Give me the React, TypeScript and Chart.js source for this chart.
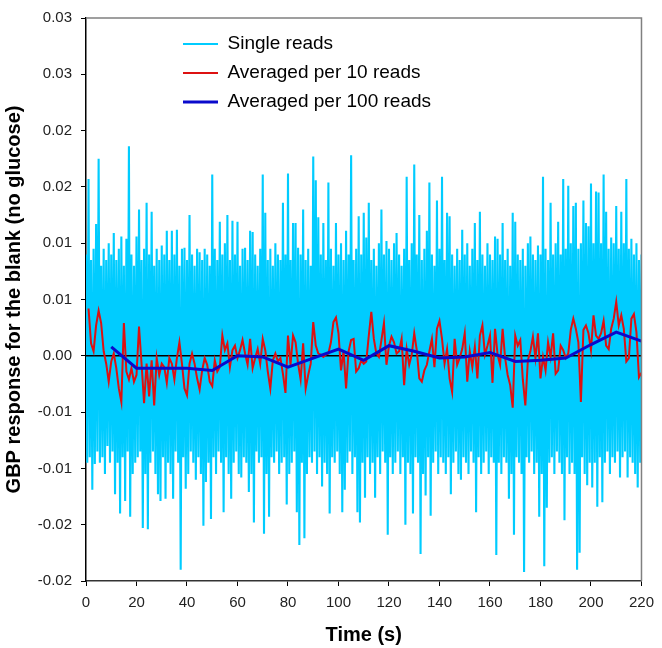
import React, { useEffect, useRef } from "react";
import { Chart, registerables } from "chart.js";

Chart.register(...registerables);

// ---------------- DATA (values in units of 0.001) ----------------
const UNIT = 0.001;

// single reads, plotted every 0.5 s from t = 0 to t = 220 s
const SINGLE_READ_STEP = 0.5;
const singleReads = [
  9, -9.5, 15.7, -9, 8.5, -11.9, 9.5, -9.6, 11.7, -8.5, 17.5, -9.5, 8, -9, 9.5, -10.5, 8.5, -8, 10, -9.5,
  9, -8.5, 10.9, -12.3, 8.5, -9.5, 9.5, -14, 10.6, -9, 8, -12.9, 10.4, -8.5, 18.6, -14.3, 9, -10.5, 8, -9.5,
  10.6, -9, 13, -8.5, 8.5, -15.3, 9.5, -10.5, 13.6, -15.4, 9, -9.5, 12.8, -8.5, 8, -10.5, 9.5, -12.3, 8.5, -12.9,
  9.8, -9, 9, -12.7, 11.1, -9.5, 8.5, -10.5, 11.1, -12.7, 9, -8.5, 11.2, -9.5, 8, -19, 9.5, -9, 9.6, -11.8,
  8.5, -10.5, 12.5, -8.5, 9, -9.5, 8, -11, 9.5, -9, 9.2, -10.5, 8.5, -15.1, 9.5, -11.2, 9, -9.5, 8, -14.5,
  16.1, -9, 9.5, -10.5, 8.5, -8.5, 11.9, -9.5, 9, -13.9, 10, -9, 12.5, -10.5, 8.5, -12.7, 12, -9.5, 9, -8.5,
  11.9, -10.5, 8, -10.8, 9.5, -9, 9.6, -9.5, 8.5, -12.1, 11.1, -10.5, 11, -14.8, 9, -8.5, 8, -9.5, 9.5, -9,
  16.1, -15.8, 12.7, -10.5, 8.5, -14.3, 9.5, -9, 8, -9.5, 10, -8.5, 9, -10.5, 8.5, -9.5, 13.6, -9, 9, -13.2,
  16.2, -10.5, 8.5, -9.5, 11.8, -8.5, 11.8, -13.9, 9.6, -16.8, 9, -9.5, 13, -16.2, 8.5, -10.5, 9.5, -9, 8, -9.5,
  17.7, -8.5, 15.6, -10.5, 12.3, -9, 9, -11.6, 11.8, -9.5, 8.5, -10.5, 15.4, -14, 9.5, -9, 8, -9.5, 11.8, -8.5,
  9, -10.5, 10, -13.9, 8.5, -11.9, 11.1, -9.5, 9, -8.5, 17.8, -10.5, 8.5, -9, 9.5, -13.9, 12.4, -14.8, 9, -9.5,
  12.7, -12.6, 10.5, -9, 13.6, -10.5, 8.5, -9.5, 9.5, -12.6, 8, -9, 10, -10.5, 13, -8.5, 9, -9.5, 10.2, -15.9,
  9.5, -9, 8.5, -10.5, 10, -9.5, 10.9, -8.5, 9, -10.5, 8, -9, 9.5, -15, 15.9, -9.5, 8.5, -10.5, 10, -14,
  17, -9, 9, -9.5, 12.5, -17.6, 8.5, -10.5, 9.5, -12.4, 11.1, -9, 15.4, -14.2, 9, -9.5, 8, -8.5, 13.8, -10.5,
  9.5, -9, 15.9, -9.5, 8.5, -10.5, 12.7, -9, 12.4, -12.3, 9, -9.5, 8, -8.5, 9.5, -10.5, 8.5, -11, 11.2, -9,
  9, -9.5, 10, -10.5, 8, -8.5, 9.5, -9.5, 11.8, -13.9, 8.5, -9, 12.8, -10.5, 9, -9.5, 8, -8.5, 10, -10.5,
  9, -9, 8.5, -9.5, 10.6, -17.7, 10.4, -9.5, 9, -10.5, 11.8, -9, 8.5, -9.5, 9.5, -12.7, 8, -10.5, 12.7, -15.9,
  11.9, -9, 9, -9.5, 8.5, -10.5, 9.5, -19.2, 8, -9, 10, -9.5, 10.6, -8.5, 9, -10.5, 8.5, -9.5, 9.8, -14.3,
  9, -10.5, 15.9, -18.7, 9.5, -13.5, 8.5, -9.5, 13.6, -9, 9, -10.5, 10, -8.5, 11.9, -9.5, 9, -10.5, 15.7, -14.6,
  9.5, -9, 15.1, -10.5, 10, -9.5, 13.3, -10.5, 13.6, -19, 9.5, -17.5, 10, -9, 13.8, -10.5, 11.8, -11.5, 11.5, -9.5,
  15.3, -11.7, 10, -9.5, 14.6, -13.4, 14.5, -9, 10, -13, 16.1, -9.5, 12.8, -8.5, 9.5, -10.5, 10.5, -9, 10, -9.5,
  13.3, -8.5, 9.5, -10.8, 12.8, -9, 10, -8.5, 15.7, -10.8, 9.5, -9, 10.4, -9.5, 9, -10.5, 10, -11.7, 8.5, -9.5,
  9,
];

// averaged per 10 reads: one value per second, t = 1 ... 220 s
const avg10 = [
  4.2, 1.1, 0.4, 2.7, 4.0, 2.9, 0.4, -0.7, -2.3, -0.5,
  0.2, -1.1, -2.9, -4.1, 2.9, -1.4, -2.1, -1.1, -2.3, -1.7,
  2.6, -0.7, -4.2, -0.7, -3.6, -0.4, -4.4, -0.2, -1.7, -0.7,
  -1.0, -2.4, -0.2, -0.7, -2.1, -0.2, 1.2, -0.7, -2.9, -3.5,
  -0.7, 0.2, -0.7, -2.0, -3.0, -1.3, -0.2, -0.8, -2.3, -2.7,
  -0.4, -1.4, -1.0, 1.8, 0.5, 1.1, -1.0, 0.5, 0.9, -0.2,
  0.5, 1.4, 0.2, -0.8, 1.5, -1.1, -0.2, 0.6, -0.7, 1.5,
  0.5, -1.4, -2.9, -0.4, 0.2, -0.5, -0.2, -1.6, -3.3, 1.8,
  -0.8, 1.8, 1.2, -0.7, -2.1, 1.1, -2.9, -1.7, -0.7, 3.0,
  0.9, 0.2, 0.1, -0.1, 0.1, 0.2, 1.2, 3.0, 3.4, 2.0,
  -1.3, 0.4, -2.9, 0.4, 1.4, 1.5, -1.4, -1.1, -0.4, -0.7,
  -0.5, 1.8, 3.9, 1.5, 0.2, -0.1, 1.4, 2.9, -0.8, 0.9,
  1.7, 1.2, 0.2, 0.4, 1.5, -2.6, 0.6, -0.8, 0.1, 2.0,
  0.5, -2.0, -2.3, -1.3, -0.8, 0.4, 1.5, -1.0, 2.4, 3.1,
  1.5, -0.7, 0.6, -2.0, -3.2, 1.5, -0.8, -0.2, 0.6, 2.0,
  -2.3, 0.4, -1.0, 0.8, -2.0, 1.8, 2.7, 0.1, 0.9, 1.8,
  -2.4, 2.4, 0.1, -0.8, 2.4, -0.2, -1.7, -2.6, -4.6, 1.8,
  0.9, 1.4, -2.1, -4.4, -0.4, 0.4, 1.7, -0.2, 2.0, -2.0,
  -0.1, -1.3, 1.2, -0.1, 2.0, -1.6, -1.3, 0.9, 0.5, -0.2,
  0.2, 2.3, 3.3, 2.4, 1.2, -4.1, 2.3, 2.7, 2.0, 0.5,
  3.6, 1.8, 1.5, 2.0, 3.1, 0.9, 0.6, 2.4, 3.3, 4.8,
  2.7, 3.6, 2.4, -0.5, -0.2, 3.3, 3.7, 2.1, -1.9, -1.5,
];
const AVG10_FIRST_TIME = 1;
const AVG10_STEP = 1;

// averaged per 100 reads
const avg100Times = [10, 20, 30, 40, 50, 60, 70, 80, 90, 100, 110, 120, 130, 140, 150, 160, 170, 180, 190, 200, 210, 220];
const avg100 = [0.8, -1.1, -1.1, -1.1, -1.3, 0.0, -0.1, -1.0, -0.2, 0.6, -0.4, 0.9, 0.4, -0.2, -0.1, 0.3, -0.5, -0.4, -0.2, 1.0, 2.1, 1.3];

const seriesLabels = ["Single reads", "Averaged per 10 reads", "Averaged per 100 reads"];

// axes
const X_MIN = 0;
const X_MAX = 220;
const X_STEP = 20;
const Y_MIN = -0.02;
const Y_MAX = 0.03;
const Y_STEP = 0.005;
const yTickLabels = ["-0.02", "-0.02", "-0.01", "-0.01", "0.00", "0.01", "0.01", "0.02", "0.02", "0.03", "0.03"];
const xTitle = "Time (s)";
const yTitle = "GBP response for the blank (no glucose)";

// ---------------- STYLE ----------------
const FONT = '"Liberation Sans", Arial, Helvetica, sans-serif';
const COLORS = ["#00CCFF", "#DD1111", "#0A0ACC"];
const LINE_WIDTHS = [2.1, 2, 3];
const LEGEND_LINE_WIDTHS = [2, 2, 3];
const LEGEND_OFFSET_X = 87;
const LEGEND_OFFSET_Y = 6.5;

const zeroLinePlugin = {
  id: "zeroLine",
  afterDatasetDraw(chart: any, args: any) {
    if (args.index !== 0) return;
    const { ctx, chartArea } = chart;
    const y = chart.scales.y.getPixelForValue(0);
    ctx.save();
    ctx.strokeStyle = "#000";
    ctx.lineWidth = 1.5;
    ctx.beginPath();
    ctx.moveTo(chartArea.left, y);
    ctx.lineTo(chartArea.right, y);
    ctx.stroke();
    ctx.restore();
  },
};

const framePlugin = {
  id: "plotFrame",
  afterDatasetsDraw(chart: any) {
    const { ctx, chartArea: a } = chart;
    ctx.save();
    ctx.strokeStyle = "#808080";
    ctx.lineWidth = 1.5;
    ctx.beginPath();
    ctx.moveTo(a.left, a.top);
    ctx.lineTo(a.right, a.top);
    ctx.lineTo(a.right, a.bottom);
    ctx.stroke();
    ctx.restore();
  },
};

const legendPlacePlugin = {
  id: "legendPlace",
  afterLayout(chart: any) {
    const lg = chart.legend;
    if (!lg) return;
    lg.left = chart.chartArea.left + LEGEND_OFFSET_X;
    lg.top = chart.chartArea.top + LEGEND_OFFSET_Y;
  },
};

export default function App() {
  const canvasRef = useRef<HTMLCanvasElement | null>(null);

  useEffect(() => {
    document.body.style.margin = "0";
    const canvas = canvasRef.current;
    if (!canvas) return;

    const singleData = singleReads.map((v, i) => ({ x: i * SINGLE_READ_STEP, y: v * UNIT }));
    const avg10Data = avg10.map((v, i) => ({ x: AVG10_FIRST_TIME + i * AVG10_STEP, y: v * UNIT }));
    const avg100Data = avg100.map((v, i) => ({ x: avg100Times[i], y: v * UNIT }));

    const tickFont = { family: FONT, size: 15 };
    const titleFont = { family: FONT, size: 20, weight: "bold" as const };

    const chart = new Chart(canvas, {
      type: "line",
      data: {
        datasets: [
          { label: seriesLabels[0], data: singleData, borderColor: COLORS[0], backgroundColor: COLORS[0], borderWidth: LINE_WIDTHS[0], pointRadius: 0, tension: 0, order: 2 },
          { label: seriesLabels[1], data: avg10Data, borderColor: COLORS[1], backgroundColor: COLORS[1], borderWidth: LINE_WIDTHS[1], pointRadius: 0, tension: 0, order: 1 },
          { label: seriesLabels[2], data: avg100Data, borderColor: COLORS[2], backgroundColor: COLORS[2], borderWidth: LINE_WIDTHS[2], pointRadius: 0, tension: 0, order: 0 },
        ],
      },
      options: {
        responsive: false,
        animation: false,
        devicePixelRatio: 1,
        layout: { padding: { top: 14, right: 17, left: 0, bottom: 0 } },
        plugins: {
          tooltip: { enabled: false },
          legend: {
            position: "chartArea" as any,
            align: "start",
            labels: {
              usePointStyle: true,
              pointStyle: "line",
              pointStyleWidth: 35,
              padding: 10,
              color: "#000",
              font: { family: FONT, size: 19 },
              generateLabels: (ch: any) =>
                ch.data.datasets.map((ds: any, i: number) => ({
                  text: ds.label,
                  fillStyle: ds.borderColor,
                  strokeStyle: ds.borderColor,
                  lineWidth: LEGEND_LINE_WIDTHS[i],
                  pointStyle: "line",
                  hidden: false,
                  datasetIndex: i,
                  fontColor: "#000",
                })),
            },
          },
        },
        scales: {
          x: {
            type: "linear",
            min: X_MIN,
            max: X_MAX,
            ticks: { stepSize: X_STEP, font: tickFont, color: "#222", padding: 8, maxRotation: 0, autoSkip: false },
            grid: { drawOnChartArea: false, color: "#000", tickColor: "#000", tickLength: 5 },
            border: { display: true, color: "#333", width: 1.5 },
            title: { display: true, text: xTitle, color: "#000", font: titleFont, padding: { top: 0, bottom: 1 } },
            afterFit: (s: any) => {
              s.height = 67;
            },
          },
          y: {
            type: "linear",
            min: Y_MIN,
            max: Y_MAX,
            ticks: {
              stepSize: Y_STEP,
              font: tickFont,
              color: "#222",
              padding: 9,
              autoSkip: false,
              callback: (_v: any, i: number) => yTickLabels[i],
            },
            grid: { drawOnChartArea: false, color: "#000", tickColor: "#000", tickLength: 5 },
            border: { display: true, color: "#000", width: 1.5 },
            title: { display: true, text: yTitle, color: "#000", font: titleFont, padding: { top: 2.5, bottom: 0 } },
            afterFit: (s: any) => {
              s.width = 86;
            },
          },
        },
      },
      plugins: [zeroLinePlugin, framePlugin, legendPlacePlugin],
    });

    return () => {
      chart.destroy();
    };
  }, []);

  return (
    <div style={{ width: 662, height: 648, background: "#fff" }}>
      <canvas ref={canvasRef} width={662} height={648} />
    </div>
  );
}
